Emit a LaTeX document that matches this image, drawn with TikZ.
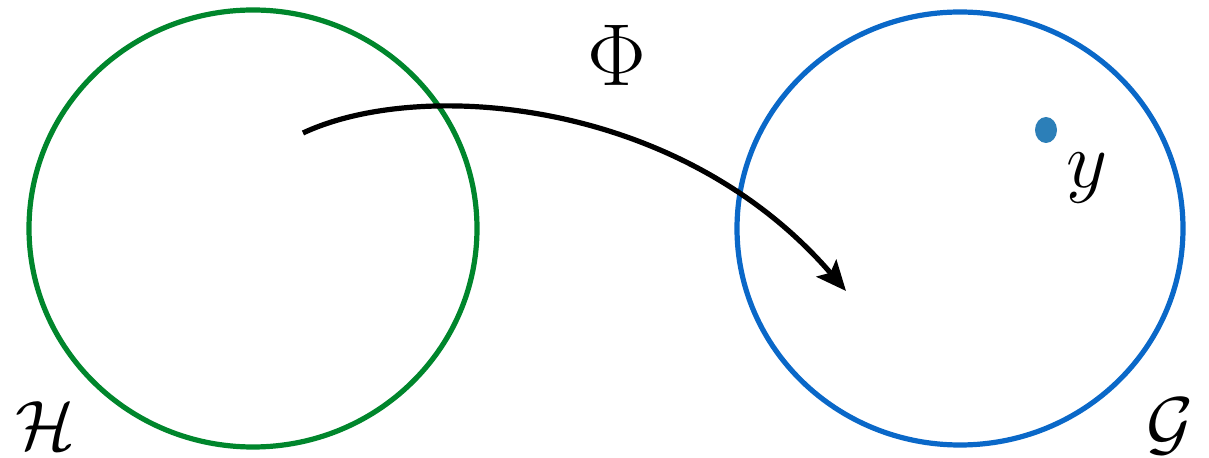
\RequirePackage{fix-cm}
\documentclass[tikz,border=0pt]{standalone}
\usetikzlibrary{arrows.meta}
\definecolor{cgreen}{RGB}{0,134,44}
\definecolor{cblue}{RGB}{10,104,200}
\definecolor{cdot}{RGB}{44,127,184}
\begin{document}
\begin{tikzpicture}[x=0.5pt,y=-0.5pt,
  setline/.style={line width=2.6pt},
  lbl/.style={inner sep=0pt,anchor=center}]
\useasboundingbox (0,0) rectangle (1209,458);
\draw[setline,cgreen] (253,228.5) ellipse [x radius=224, y radius=218.5];
\draw[setline,cblue] (960,228.5) ellipse [x radius=223, y radius=216.5];
\fill[cdot] (1046,130) ellipse [x radius=11, y radius=13];
\coordinate (s) at (303,133);
\coordinate (e) at (846,291);
\draw[line width=2.6pt,-{Stealth[length=15pt,width=13pt,inset=3pt]}] (s) .. controls (420,78) and (680,98) .. (e);
\node[lbl] (phi) at (617,55) {\fontsize{44}{48}\selectfont$\Phi$};
\node[lbl] (y) at (1087,178) {\fontsize{40}{44}\selectfont$y$};
\node[lbl] (H) at (45,426) {\fontsize{35}{40}\selectfont$\mathcal{H}$};
\node[lbl] (G) at (1170,426) {\fontsize{36}{40}\selectfont$\mathcal{G}$};
\end{tikzpicture}
\end{document}
